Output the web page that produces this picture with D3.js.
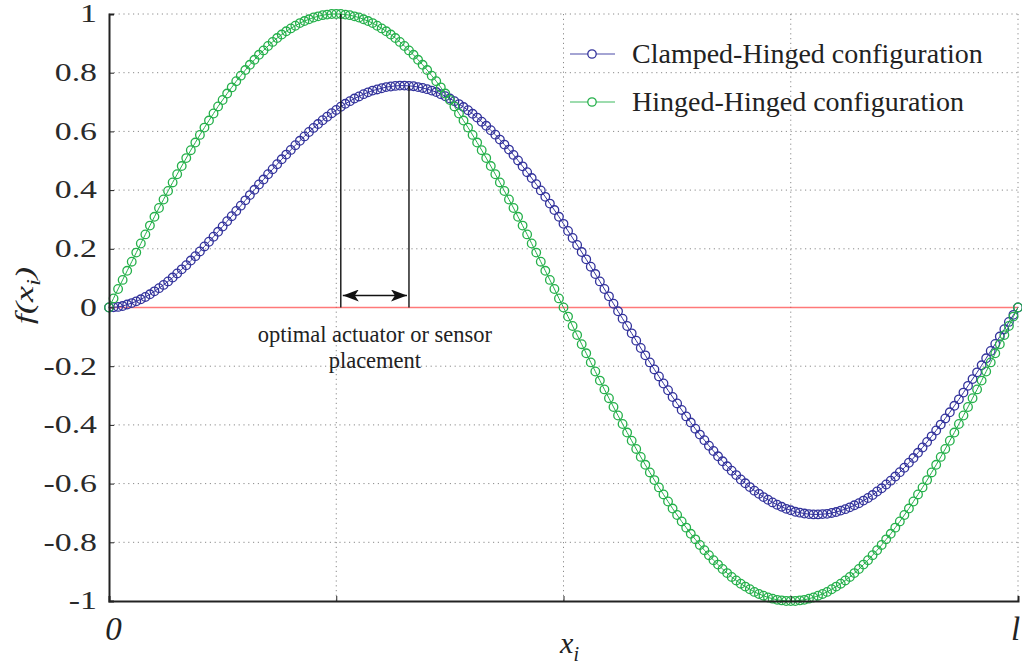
<!DOCTYPE html>
<html>
<head>
<meta charset="utf-8">
<script src="https://cdn.jsdelivr.net/npm/d3@7/dist/d3.min.js"></script>
<style>
  body { margin: 0; background: #fff; }
  svg, svg text { font-family: "Liberation Serif", "Times New Roman", Times, "DejaVu Serif", serif; }
</style>
</head>
<body>
<div id="chart"></div>
<script>

var serifFont = "'Liberation Serif', 'Times New Roman', Times, 'DejaVu Serif', serif";

// sample step along the beam (fraction of l)
var sampleStep = 0.005;

// Clamped-Hinged configuration, f(x_i)
var clampedHinged = [
  0, .001, .002, .005, .010, .015, .021, .028, .036, .045,
  .055, .066, .077, .089, .102, .116, .130, .144, .160, .175,
  .191, .208, .224, .241, .258, .276, .294, .311, .329, .347,
  .365, .383, .401, .419, .436, .454, .471, .488, .505, .521,
  .537, .553, .568, .583, .598, .612, .625, .638, .650, .662,
  .673, .684, .694, .703, .712, .719, .727, .733, .739, .743,
  .747, .751, .753, .755, .756, .756, .755, .754, .751, .748,
  .744, .739, .734, .727, .720, .712, .703, .693, .683, .672,
  .660, .647, .633, .619, .604, .589, .572, .555, .538, .520,
  .501, .481, .461, .441, .420, .399, .377, .354, .332, .309,
  .285, .261, .237, .213, .189, .164, .139, .114, .089, .063,
  .038, .013, -.013, -.038, -.063, -.088, -.113, -.138, -.163, -.187,
  -.211, -.235, -.259, -.282, -.305, -.327, -.349, -.371, -.392, -.413,
  -.433, -.452, -.471, -.489, -.507, -.524, -.541, -.556, -.571, -.586,
  -.599, -.612, -.624, -.635, -.646, -.655, -.664, -.672, -.679, -.686,
  -.691, -.696, -.699, -.702, -.704, -.705, -.705, -.704, -.703, -.700,
  -.697, -.692, -.687, -.681, -.674, -.667, -.658, -.649, -.639, -.627,
  -.616, -.603, -.590, -.576, -.561, -.546, -.529, -.513, -.495, -.477,
  -.458, -.439, -.419, -.399, -.378, -.357, -.335, -.313, -.290, -.267,
  -.244, -.221, -.197, -.173, -.148, -.124, -.099, -.074, -.049, -.025,
  0
];

// Hinged-Hinged configuration, f(x_i)
var hingedHinged = [
  0, .031, .063, .094, .125, .156, .187, .218, .249, .279,
  .309, .339, .368, .397, .426, .454, .482, .509, .536, .562,
  .588, .613, .637, .661, .685, .707, .729, .750, .771, .790,
  .809, .827, .844, .861, .876, .891, .905, .918, .930, .941,
  .951, .960, .969, .976, .982, .988, .992, .996, .998, 1.000,
  1.000, 1.000, .998, .996, .992, .988, .982, .976, .969, .960,
  .951, .941, .930, .918, .905, .891, .876, .861, .844, .827,
  .809, .790, .771, .750, .729, .707, .685, .661, .637, .613,
  .588, .562, .536, .509, .482, .454, .426, .397, .368, .339,
  .309, .279, .249, .218, .187, .156, .125, .094, .063, .031,
  0, -.031, -.063, -.094, -.125, -.156, -.187, -.218, -.249, -.279,
  -.309, -.339, -.368, -.397, -.426, -.454, -.482, -.509, -.536, -.562,
  -.588, -.613, -.637, -.661, -.685, -.707, -.729, -.750, -.771, -.790,
  -.809, -.827, -.844, -.861, -.876, -.891, -.905, -.918, -.930, -.941,
  -.951, -.960, -.969, -.976, -.982, -.988, -.992, -.996, -.998, -1.000,
  -1.000, -1.000, -.998, -.996, -.992, -.988, -.982, -.976, -.969, -.960,
  -.951, -.941, -.930, -.918, -.905, -.891, -.876, -.861, -.844, -.827,
  -.809, -.790, -.771, -.750, -.729, -.707, -.685, -.661, -.637, -.613,
  -.588, -.562, -.536, -.509, -.482, -.454, -.426, -.397, -.368, -.339,
  -.309, -.279, -.249, -.218, -.187, -.156, -.125, -.094, -.063, -.031,
  0
];

var seriesNames = ["Clamped-Hinged configuration", "Hinged-Hinged configuration"];
var seriesColors = ["#33339c", "#25b04b"];

var xTicks = [0, 0.25, 0.5, 0.75, 1];
var xTickLabels = ["0", "", "", "", "l"];
var yTicks = [-1, -0.8, -0.6, -0.4, -0.2, 0, 0.2, 0.4, 0.6, 0.8, 1];
var yTickLabels = ["-1", "-0.8", "-0.6", "-0.4", "-0.2", "0", "0.2", "0.4", "0.6", "0.8", "1"];

// optimal placement markers (x as fraction of l, peak value)
var placementMarks = [{ x: 0.255, y: 1.0 }, { x: 0.33, y: 0.755 }];
var placementText = ["optimal actuator or sensor", "placement"];


ModeVis = function (_parentElement, _series) {
  this.parentElement = _parentElement;
  this.series = _series;
  this.displayData = [];

  this.margin = { top: 14, right: 4, bottom: 65, left: 109 };
  this.width = 1022 - this.margin.left - this.margin.right;
  this.height = 666 - this.margin.top - this.margin.bottom;

  this.initVis();
}

ModeVis.prototype.initVis = function () {
  var that = this;

  this.svg = this.parentElement.append("svg")
      .attr("width", 1022)
      .attr("height", 666)
      .attr("font-family", serifFont)
      .append("g")
      .attr("transform", "translate(" + this.margin.left + "," + this.margin.top + ")");

  this.x = d3.scaleLinear().domain([0, 1]).range([0, this.width]);
  this.y = d3.scaleLinear().domain([-1, 1]).range([this.height, 0]);

  // dotted grid
  var grid = this.svg.append("g").attr("class", "grid");
  grid.selectAll("line.h")
      .data(yTicks.filter(function (d) { return d > -1 && d !== 0; }))
      .enter().append("line")
      .attr("x1", 0).attr("x2", this.width)
      .attr("y1", function (d) { return that.y(d); })
      .attr("y2", function (d) { return that.y(d); })
      .attr("stroke", "#8a8a8a")
      .attr("stroke-width", 1)
      .attr("stroke-dasharray", "1.2,3.6");
  grid.selectAll("line.v")
      .data(xTicks.filter(function (d) { return d > 0; }))
      .enter().append("line")
      .attr("y1", 0).attr("y2", this.height)
      .attr("x1", function (d) { return that.x(d); })
      .attr("x2", function (d) { return that.x(d); })
      .attr("stroke", "#8a8a8a")
      .attr("stroke-width", 1)
      .attr("stroke-dasharray", "1.2,3.6");

  // red zero line
  this.svg.append("line")
      .attr("x1", 0).attr("x2", this.width)
      .attr("y1", this.y(0)).attr("y2", this.y(0))
      .attr("stroke", "#ff4040")
      .attr("stroke-opacity", 0.7)
      .attr("stroke-width", 1.4);

  this.wrangleData();
  this.updateVis();
  this.drawAxes();
  this.drawAnnotation();
  this.drawLegend();
}

ModeVis.prototype.wrangleData = function () {
  this.displayData = this.series.map(function (s) {
    return {
      name: s.name,
      color: s.color,
      values: s.values.map(function (v, i) { return { x: i * sampleStep, y: v }; })
    };
  });
}

ModeVis.prototype.updateVis = function () {
  var that = this;

  var line = d3.line()
      .x(function (d) { return that.x(d.x); })
      .y(function (d) { return that.y(d.y); });

  var groups = this.svg.selectAll("g.series")
      .data(this.displayData)
      .enter().append("g")
      .attr("class", "series");

  groups.append("path")
      .attr("d", function (d) { return line(d.values); })
      .attr("fill", "none")
      .attr("stroke", function (d) { return d.color; })
      .attr("stroke-width", 1);

  groups.each(function (s) {
    d3.select(this).selectAll("circle")
        .data(s.values)
        .enter().append("circle")
        .attr("cx", function (d) { return that.x(d.x); })
        .attr("cy", function (d) { return that.y(d.y); })
        .attr("r", 4.3)
        .attr("fill", "none")
        .attr("stroke", s.color)
        .attr("stroke-width", 1.3);
  });
}

ModeVis.prototype.drawAxes = function () {
  var that = this;

  var yAxis = d3.axisLeft(this.y)
      .tickValues(yTicks)
      .tickSize(-5)
      .tickPadding(0)
      .tickFormat(function (d, i) { return yTickLabels[i]; });

  var yg = this.svg.append("g").call(yAxis).attr("font-family", serifFont);
  yg.select(".domain").attr("stroke", "#222").attr("stroke-width", 2);
  yg.selectAll(".tick line").attr("stroke", "#222");
  // labels in the source are drawn wide, so stretch them a little
  yg.selectAll(".tick text")
      .attr("x", 0)
      .attr("transform", "translate(-12,0) scale(1.38,1)")
      .style("font-family", serifFont)
      .style("font-size", "24.5px")
      .attr("fill", "#2a2a2a");

  var xAxis = d3.axisBottom(this.x)
      .tickValues(xTicks)
      .tickSize(-5)
      .tickPadding(16)
      .tickFormat(function (d, i) { return xTickLabels[i]; });

  var xg = this.svg.append("g")
      .attr("transform", "translate(0," + this.height + ")")
      .attr("font-family", serifFont)
      .call(xAxis);
  xg.select(".domain").attr("stroke", "#222").attr("stroke-width", 2);
  xg.selectAll(".tick line").attr("stroke", "#222");
  xg.selectAll(".tick text")
      .attr("dx", function (d, i) { return i === 0 ? 4 : -3; })
      .style("font-family", serifFont)
      .style("font-size", "33px")
      .style("font-style", "italic")
      .attr("fill", "#222");

  // axis titles
  var xl = this.svg.append("text")
      .attr("x", this.width / 2 + 6)
      .attr("y", this.height + 52)
      .attr("text-anchor", "middle")
      .attr("fill", "#222")
      .style("font-family", serifFont)
      .style("font-size", "30px")
      .style("font-style", "italic");
  xl.append("tspan").text("x");
  xl.append("tspan").attr("dy", 8).style("font-size", "20px").text("i");

  var yl = this.svg.append("text")
      .attr("transform", "translate(-76," + (this.y(0) - 12) + ") rotate(-90) scale(1.4,1)")
      .attr("text-anchor", "middle")
      .attr("fill", "#222")
      .style("font-family", serifFont)
      .style("font-size", "26px")
      .style("font-style", "italic");
  yl.append("tspan").text("f(x");
  yl.append("tspan").attr("dy", 7).style("font-size", "18px").text("i");
  yl.append("tspan").attr("dy", -7).text(")");
}

ModeVis.prototype.drawAnnotation = function () {
  var that = this;
  var y0 = this.y(0);

  this.svg.selectAll("line.mark")
      .data(placementMarks)
      .enter().append("line")
      .attr("class", "mark")
      .attr("x1", function (d) { return that.x(d.x); })
      .attr("x2", function (d) { return that.x(d.x); })
      .attr("y1", function (d) { return that.y(d.y); })
      .attr("y2", y0)
      .attr("stroke", "#111")
      .attr("stroke-width", 1.4);

  var defs = this.svg.append("defs");
  defs.append("marker")
      .attr("id", "head")
      .attr("viewBox", "0 0 16 12")
      .attr("refX", 16).attr("refY", 6)
      .attr("markerWidth", 16).attr("markerHeight", 12)
      .attr("markerUnits", "userSpaceOnUse")
      .attr("orient", "auto-start-reverse")
      .append("path")
      .attr("d", "M0,0 L16,6 L0,12 L4,6 Z")
      .attr("fill", "#111");

  var ay = y0 - 12;
  this.svg.append("line")
      .attr("x1", this.x(placementMarks[0].x) + 2)
      .attr("x2", this.x(placementMarks[1].x) - 2)
      .attr("y1", ay).attr("y2", ay)
      .attr("stroke", "#111")
      .attr("stroke-width", 1.6)
      .attr("marker-start", "url(#head)")
      .attr("marker-end", "url(#head)");

  var cx = (this.x(placementMarks[0].x) + this.x(placementMarks[1].x)) / 2;
  this.svg.selectAll("text.note")
      .data(placementText)
      .enter().append("text")
      .attr("class", "note")
      .attr("x", cx)
      .attr("y", function (d, i) { return y0 + 34 + i * 26; })
      .attr("text-anchor", "middle")
      .attr("fill", "#222")
      .style("font-family", serifFont)
      .style("font-size", "22.5px")
      .text(function (d) { return d; });
}

ModeVis.prototype.drawLegend = function () {
  var legend = this.svg.append("g")
      .attr("transform", "translate(461,40)");

  var items = legend.selectAll("g.item")
      .data(this.displayData)
      .enter().append("g")
      .attr("class", "item")
      .attr("transform", function (d, i) { return "translate(0," + i * 48 + ")"; });

  items.append("line")
      .attr("x1", 0).attr("x2", 45)
      .attr("stroke", function (d) { return d.color; })
      .attr("stroke-opacity", 0.6)
      .attr("stroke-width", 1.6);
  items.append("circle")
      .attr("cx", 22).attr("r", 4.2)
      .attr("fill", "#fff")
      .attr("stroke", function (d) { return d.color; })
      .attr("stroke-width", 1.3);
  items.append("text")
      .attr("x", 62).attr("y", 9)
      .attr("fill", "#222")
      .style("font-family", serifFont)
      .style("font-size", "28px")
      .text(function (d) { return d.name; });
}


var vis = new ModeVis(d3.select("#chart"), [
  { name: seriesNames[0], color: seriesColors[0], values: clampedHinged },
  { name: seriesNames[1], color: seriesColors[1], values: hingedHinged }
]);

</script>
</body>
</html>
